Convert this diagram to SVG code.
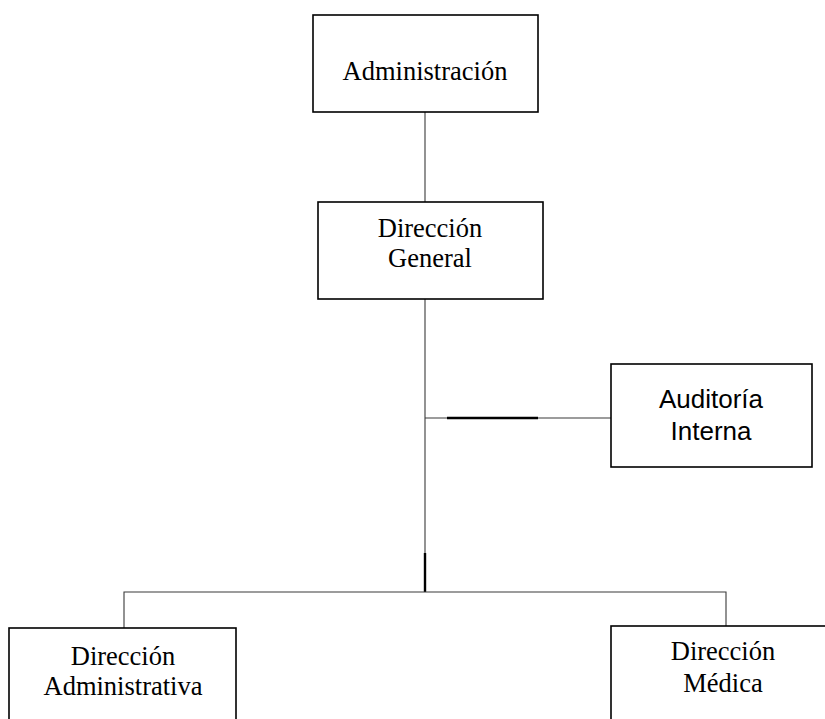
<svg xmlns="http://www.w3.org/2000/svg" width="825" height="719" viewBox="0 0 825 719">
  <style>
    .box { fill: #ffffff; stroke: #000000; stroke-width: 1.6; }
    .serif { font-family: "Liberation Serif", "Times New Roman", serif; font-size: 26.5px; fill: #000000; text-anchor: middle; }
    .sans { font-family: "Liberation Sans", Arial, sans-serif; font-size: 26px; fill: #000000; text-anchor: middle; }
    .wire { stroke: #3a3a3a; stroke-width: 1.1; fill: none; }
    .wire-bold { stroke: #000000; stroke-width: 2.4; fill: none; }
  </style>
  <rect width="825" height="719" fill="#ffffff"/>

  <g id="connectors">
    <!-- Administración to Dirección General -->
    <line class="wire" x1="425" y1="112" x2="425" y2="202"/>
    <!-- Dirección General down to the branch bar -->
    <line class="wire" x1="425" y1="299" x2="425" y2="554"/>
    <line class="wire-bold" x1="425" y1="553" x2="425" y2="592"/>
    <!-- staff link to Auditoría Interna -->
    <line class="wire" x1="425" y1="418" x2="611" y2="418"/>
    <line class="wire-bold" x1="447" y1="418" x2="538" y2="418"/>
    <!-- branch bar and drops -->
    <polyline class="wire" points="124,628 124,592 726,592 726,626"/>
  </g>

  <g id="administracion">
    <rect class="box" x="313" y="15" width="225" height="97"/>
    <text class="serif" x="425" y="80">Administración</text>
  </g>

  <g id="direccion-general">
    <rect class="box" x="318" y="202" width="225" height="97"/>
    <text class="serif" x="430" y="237">Dirección</text>
    <text class="serif" x="430" y="267">General</text>
  </g>

  <g id="auditoria-interna">
    <rect class="box" x="611" y="364" width="201" height="103"/>
    <text class="sans" x="711" y="408">Auditoría</text>
    <text class="sans" x="711" y="440">Interna</text>
  </g>

  <g id="direccion-administrativa">
    <rect class="box" x="9" y="628" width="227" height="110"/>
    <text class="serif" x="123" y="665">Dirección</text>
    <text class="serif" x="123" y="695">Administrativa</text>
  </g>

  <g id="direccion-medica">
    <rect class="box" x="611" y="626" width="240" height="110"/>
    <text class="serif" x="723" y="660">Dirección</text>
    <text class="serif" x="723" y="692">Médica</text>
  </g>
</svg>
